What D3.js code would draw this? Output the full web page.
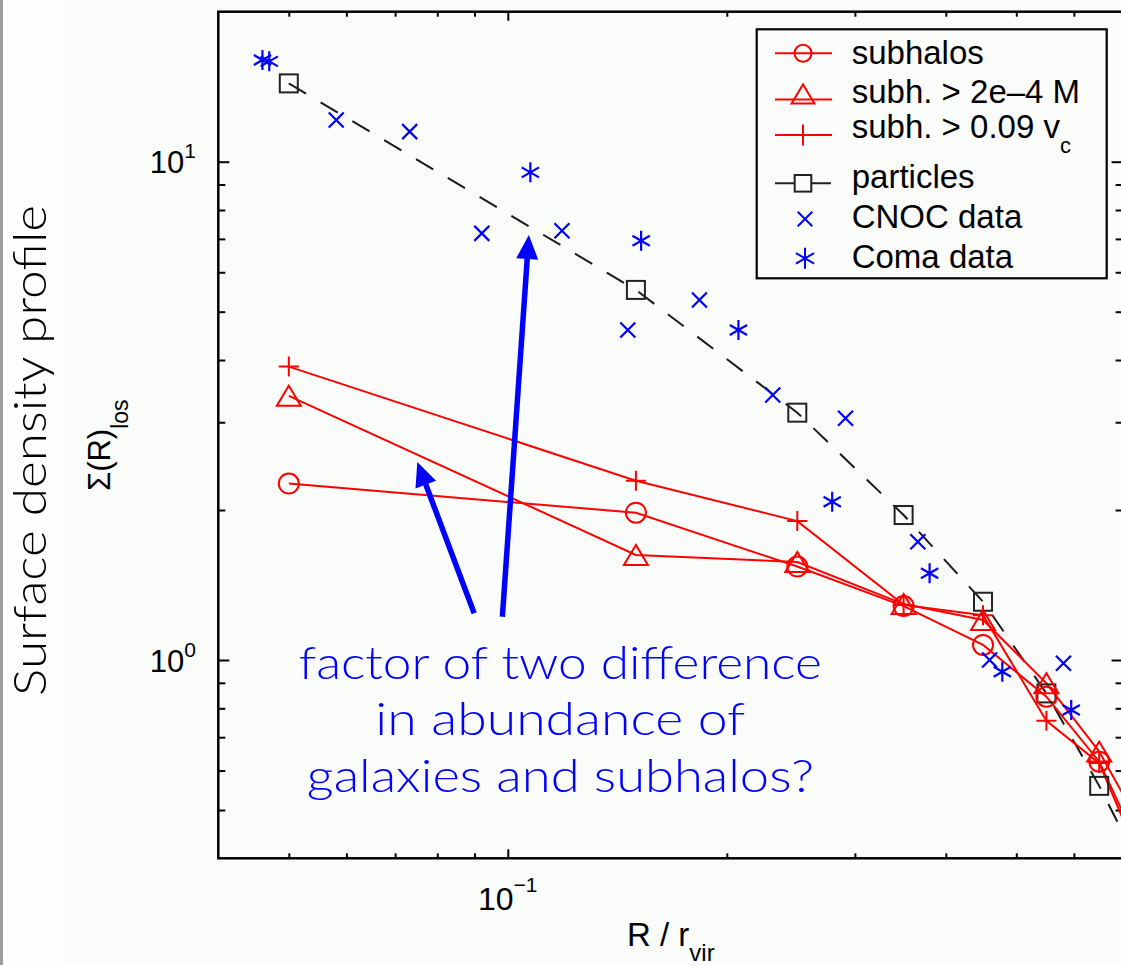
<!DOCTYPE html>
<html>
<head>
<meta charset="utf-8">
<script src="https://cdn.jsdelivr.net/npm/d3@7"></script>
<style>
  html, body { margin: 0; padding: 0; background: #fafcfa; }
  svg { display: block; }
</style>
</head>
<body>
<svg id="chart" width="1121" height="965"></svg>
<script>
// Projected radius bins, R / r_vir
const radii = [0.05, 0.15, 0.25, 0.35, 0.45, 0.55, 0.65, 0.75];
// Surface density profiles Σ(R)_los in each bin
const subhalos     = [2.26, 1.975, 1.54, 1.283, 1.072, 0.844, 0.625, 0.40];
const subhMassCut  = [3.39, 1.625, 1.573, 1.295, 1.203, 0.898, 0.655, 0.45];
const subhVelCut   = [3.88, 2.29, 1.90, 1.29, 1.23, 0.755, 0.621, 0.38];
const particles    = [14.36, 5.53, 3.136, 1.954, 1.309, 0.857, 0.559, 0.37];

// Observed cluster galaxy profiles
const cnocR     = [0.0581, 0.0733, 0.0921, 0.1187, 0.1462, 0.1834, 0.2313, 0.2912, 0.3661, 0.4594, 0.5805];
const cnocSigma = [12.13, 11.49, 7.18, 7.27, 4.594, 5.28, 3.402, 3.055, 1.727, 1.0, 0.985];
const comaR     = [0.046, 0.047, 0.1074, 0.1525, 0.2075, 0.2792, 0.38, 0.4783, 0.5949];
const comaSigma = [16.0, 15.9, 9.52, 6.94, 4.594, 2.078, 1.493, 0.947, 0.794];

// Axis ticks
const xMajorTicks = [0.1];
const xMajorExp   = ["−1"];
const xMinorTicks = [0.05, 0.06, 0.07, 0.08, 0.09, 0.2, 0.3, 0.4, 0.5, 0.6];
const yMajorTicks = [1, 10];
const yMajorExp   = ["0", "1"];
const yMinorTicks = [0.5, 0.6, 0.7, 0.8, 0.9, 2, 3, 4, 5, 6, 7, 8, 9];

// Legend entries
const legendLabels = ["subhalos", "subh. > 2e–4 M", "subh. > 0.09 v", "particles", "CNOC data", "Coma data"];
const legendSubs   = ["", "", "c", "", "", ""];

// Annotation
const noteLines = ["factor of two difference", "in abundance of", "galaxies and subhalos?"];
const noteAnchor = [0.1181, 0.916];
const arrowTails = [[0.0899, 1.241], [0.0983, 1.221]];
const arrowTips  = [[0.0751, 2.496], [0.1069, 7.128]];

const W = 1121, H = 965;
const plotLeft = 218.3, plotTop = 11.7, plotBottom = 858.3;
const decadeX = 727.5;
const xDomain = [0.04, 0.7];
const plotRight = plotLeft + Math.log10(xDomain[1] / xDomain[0]) * decadeX;

const x = d3.scaleLog().domain(xDomain).range([plotLeft, plotRight]);
const y = d3.scaleLog().domain([0.4, 20]).range([plotBottom, plotTop]);

const RED = "#ff0000", BLUE = "#0000ff", BLACK = "#000000";

const svg = d3.select("#chart");

// page background
svg.append("rect").attr("width", W).attr("height", H).attr("fill", "#fafcfa");
svg.append("rect").attr("width", 64).attr("height", H).attr("fill", "#fefefe");
svg.append("line").attr("x1", 1.5).attr("x2", 1.5).attr("y1", 0).attr("y2", H)
  .attr("stroke", "#9c9c9c").attr("stroke-width", 3);

svg.append("defs").append("clipPath").attr("id", "plotClip")
  .append("rect").attr("x", plotLeft).attr("y", plotTop)
  .attr("width", plotRight - plotLeft).attr("height", plotBottom - plotTop);

// ---- axes ----
function styleAxis(g) {
  g.select(".domain").remove();
  g.selectAll(".tick line").attr("stroke", BLACK).attr("stroke-width", 2);
}
// bottom
svg.append("g").attr("transform", `translate(0,${plotBottom})`)
  .call(d3.axisTop(x).tickValues(xMinorTicks).tickSize(5).tickFormat("")).call(styleAxis);
svg.append("g").attr("transform", `translate(0,${plotBottom})`)
  .call(d3.axisTop(x).tickValues(xMajorTicks).tickSize(9).tickFormat("")).call(styleAxis);
// top
svg.append("g").attr("transform", `translate(0,${plotTop})`)
  .call(d3.axisBottom(x).tickValues(xMinorTicks).tickSize(5).tickFormat("")).call(styleAxis);
svg.append("g").attr("transform", `translate(0,${plotTop})`)
  .call(d3.axisBottom(x).tickValues(xMajorTicks).tickSize(9).tickFormat("")).call(styleAxis);
// left
svg.append("g").attr("transform", `translate(${plotLeft},0)`)
  .call(d3.axisRight(y).tickValues(yMinorTicks).tickSize(7).tickFormat("")).call(styleAxis);
svg.append("g").attr("transform", `translate(${plotLeft},0)`)
  .call(d3.axisRight(y).tickValues(yMajorTicks).tickSize(11).tickFormat("")).call(styleAxis);
// right
svg.append("g").attr("transform", `translate(${plotRight},0)`)
  .call(d3.axisLeft(y).tickValues(yMinorTicks).tickSize(7).tickFormat("")).call(styleAxis);
svg.append("g").attr("transform", `translate(${plotRight},0)`)
  .call(d3.axisLeft(y).tickValues(yMajorTicks).tickSize(11).tickFormat("")).call(styleAxis);

// frame
svg.append("rect").attr("x", plotLeft).attr("y", plotTop)
  .attr("width", plotRight - plotLeft).attr("height", plotBottom - plotTop)
  .attr("fill", "none").attr("stroke", BLACK).attr("stroke-width", 2.5);

// tick labels: powers of ten
const labelFont = '"Liberation Sans", Arial, sans-serif';
const xLab = svg.append("g").selectAll("text").data(xMajorTicks).join("text")
  .attr("x", d => x(d)).attr("y", 910)
  .attr("text-anchor", "middle")
  .attr("font-family", labelFont).attr("font-size", 32).attr("fill", "#000");
xLab.append("tspan").text("10");
xLab.append("tspan").attr("dy", -18).attr("font-size", 21).text((d, i) => xMajorExp[i]);

const yLab = svg.append("g").selectAll("text").data(yMajorTicks).join("text")
  .attr("x", 196).attr("y", d => y(d) + 11.5)
  .attr("text-anchor", "end")
  .attr("font-family", labelFont).attr("font-size", 31).attr("fill", "#000");
yLab.append("tspan").text("10");
yLab.append("tspan").attr("dy", -15).attr("font-size", 21).text((d, i) => yMajorExp[i]);

// axis titles
const xTitle = svg.append("text").attr("x", 627).attr("y", 945.5)
  .attr("font-family", labelFont).attr("font-size", 33).attr("fill", "#000");
xTitle.append("tspan").text("R / r");
xTitle.append("tspan").attr("dy", 15).attr("font-size", 24).text("vir");

const sigTitle = svg.append("text")
  .attr("transform", "translate(110,491) rotate(-90)")
  .attr("font-family", labelFont).attr("font-size", 31).attr("fill", "#000");
sigTitle.append("tspan").text("Σ(R)");
sigTitle.append("tspan").attr("dy", 18).attr("font-size", 23).text("los");

svg.append("text")
  .attr("transform", "translate(46,450.5) rotate(-90)")
  .attr("text-anchor", "middle")
  .attr("font-family", "Lato, 'Noto Sans', sans-serif").attr("font-weight", 300)
  .attr("font-size", 46).attr("fill", "#000")
  .attr("textLength", 491).attr("lengthAdjust", "spacingAndGlyphs")
  .text("Surface density profile");

// ---- data ----
const plot = svg.append("g").attr("clip-path", "url(#plotClip)");
const line = d3.line().x(d => x(d[0])).y(d => y(d[1]));
const pairs = vals => radii.map((r, i) => [r, vals[i]]);

// particle profile, dashed
plot.append("path").datum(pairs(particles)).attr("d", line)
  .attr("fill", "none").attr("stroke", "#1a1a1a").attr("stroke-width", 2)
  .attr("stroke-dasharray", "20,17");

[subhalos, subhMassCut, subhVelCut].forEach(s => {
  plot.append("path").datum(pairs(s)).attr("d", line)
    .attr("fill", "none").attr("stroke", RED).attr("stroke-width", 2);
});

// marker shapes
const sym = {
  circle: (g, cx, cy, s) => g.append("circle").attr("cx", cx).attr("cy", cy).attr("r", s),
  triangle: (g, cx, cy, s) => g.append("path")
    .attr("d", `M${cx - s * 1.2},${cy + s}L${cx},${cy - s}L${cx + s * 1.2},${cy + s}Z`),
  plus: (g, cx, cy, s) => g.append("path")
    .attr("d", `M${cx - s},${cy}H${cx + s}M${cx},${cy - s}V${cy + s}`),
  square: (g, cx, cy, s) => g.append("rect")
    .attr("x", cx - s).attr("y", cy - s).attr("width", 2 * s).attr("height", 2 * s),
  cross: (g, cx, cy, s) => g.append("path")
    .attr("d", `M${cx - s},${cy - s}L${cx + s},${cy + s}M${cx - s},${cy + s}L${cx + s},${cy - s}`),
  star: (g, cx, cy, s) => {
    const a = Math.PI / 6, dx = s * Math.cos(a), dy = s * Math.sin(a);
    return g.append("path").attr("d",
      `M${cx},${cy - s}V${cy + s}M${cx - dx},${cy - dy}L${cx + dx},${cy + dy}M${cx - dx},${cy + dy}L${cx + dx},${cy - dy}`);
  }
};
function markers(xs, ys, shape, size, color, width) {
  const g = plot.append("g").attr("fill", "none").attr("stroke", color).attr("stroke-width", width);
  xs.forEach((r, i) => sym[shape](g, x(r), y(ys[i]), size));
}
markers(radii, particles, "square", 9, "#222", 2);
markers(radii, subhalos, "circle", 10, RED, 2);
markers(radii, subhMassCut, "triangle", 10, RED, 2);
markers(radii, subhVelCut, "plus", 10, RED, 2);
markers(cnocR, cnocSigma, "cross", 7.5, BLUE, 2.2);
markers(comaR, comaSigma, "star", 10, BLUE, 2.2);

// ---- annotation ----
const note = svg.append("g");
const noteX = x(noteAnchor[0]), noteY = y(noteAnchor[1]);
const noteWidths = [523, 370, 507];
note.selectAll("text").data(noteLines).join("text")
  .attr("x", noteX).attr("y", (d, i) => noteY + i * 56.3)
  .attr("text-anchor", "middle")
  .attr("font-family", "Lato, 'Noto Sans', sans-serif").attr("font-weight", 300)
  .attr("font-size", 45).attr("fill", BLUE)
  .attr("textLength", (d, i) => noteWidths[i]).attr("lengthAdjust", "spacingAndGlyphs")
  .text(d => d);

function arrow(tail, tip) {
  const x0 = x(tail[0]), y0 = y(tail[1]), x1 = x(tip[0]), y1 = y(tip[1]);
  const ang = Math.atan2(y1 - y0, x1 - x0);
  const hl = 24, hw = 11;
  const bx = x1 - hl * Math.cos(ang), by = y1 - hl * Math.sin(ang);
  note.append("line").attr("x1", x0).attr("y1", y0).attr("x2", bx).attr("y2", by)
    .attr("stroke", BLUE).attr("stroke-width", 5.5);
  note.append("path")
    .attr("d", `M${x1},${y1}L${bx + hw * Math.sin(ang)},${by - hw * Math.cos(ang)}L${bx - hw * Math.sin(ang)},${by + hw * Math.cos(ang)}Z`)
    .attr("fill", BLUE);
}
arrowTails.forEach((t, i) => arrow(t, arrowTips[i]));

// ---- legend ----
const lg = svg.append("g");
lg.append("rect").attr("x", 756.7).attr("y", 29.3).attr("width", 350).attr("height", 249)
  .attr("fill", "#fafcfa").attr("stroke", BLACK).attr("stroke-width", 2.2);
const rowMarkY = [53.3, 94, 135, 183.3, 219, 258.3];
const rowLineY = [53.3, 99.5, 135, 183.3, null, null];
const rowTextY = [64.3, 102.7, 138.3, 188.3, 228.3, 268.3];
const rowShape = ["circle", "triangle", "plus", "square", "cross", "star"];
const rowSize  = [8.5, 9.5, 10.5, 8.3, 7.3, 10.5];
const rowColor = [RED, RED, RED, "#222", BLUE, BLUE];
legendLabels.forEach((lab, i) => {
  const g = lg.append("g").attr("fill", "none").attr("stroke", rowColor[i]).attr("stroke-width", 2);
  if (rowLineY[i] !== null) {
    if (i === 3) {
      g.append("path").attr("d", `M775,${rowLineY[i]}H795M811,${rowLineY[i]}H831`);
    } else {
      g.append("line").attr("x1", 775).attr("x2", 832).attr("y1", rowLineY[i]).attr("y2", rowLineY[i]);
    }
  }
  sym[rowShape[i]](g, i < 4 ? 803 : 805, rowMarkY[i], rowSize[i]);
  const t = lg.append("text").attr("x", 851.7).attr("y", rowTextY[i])
    .attr("font-family", labelFont).attr("font-size", 33).attr("fill", "#000");
  t.append("tspan").text(lab);
  if (legendSubs[i]) t.append("tspan").attr("dy", 14.4).attr("font-size", 22).text(legendSubs[i]);
});
</script>
</body>
</html>
